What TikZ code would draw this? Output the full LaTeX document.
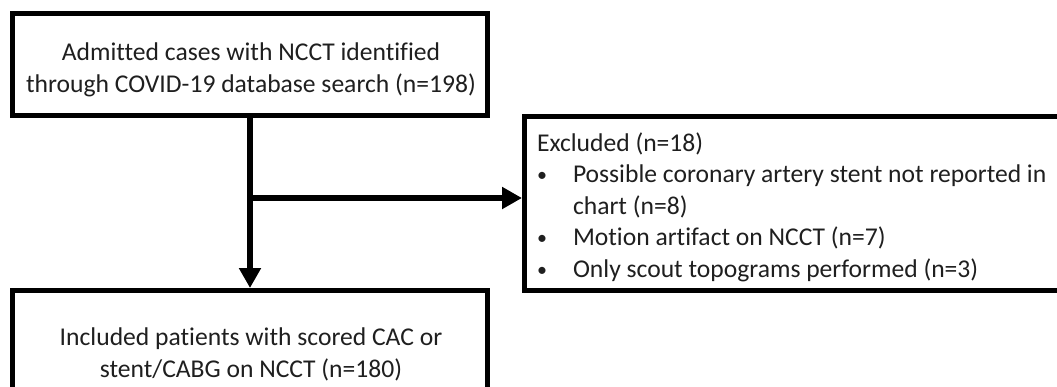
\documentclass[tikz,border=0pt]{standalone}
\usepackage{fontspec}
\setmainfont{Carlito}[Ligatures={NoCommon}]
\usetikzlibrary{arrows.meta}
\begin{document}
\begin{tikzpicture}[x=1pt,y=-1pt,
  flowbox/.style={draw=black, line width=5pt, inner sep=0pt, fill=white},
  txt/.style={inner sep=0pt, outer sep=0pt, text=black!88, font=\fontsize{25.6}{32}\selectfont},
  listtxt/.style={inner sep=0pt, outer sep=0pt, text=black!88, font=\fontsize{25.6}{31.5}\selectfont},
  conn/.style={draw=black, line width=5.5pt},
  arr/.style={conn, -{Triangle[width=21pt,length=20pt]}}]
\useasboundingbox (0,0) rectangle (1057,386);
\fill[white] (0,0) rectangle (1057,386);
% boxes
\node[flowbox, minimum width=475pt, minimum height=102pt] (top) at (250,64.5) {};
\node[flowbox, minimum width=475pt, minimum height=140pt] (bot) at (250,360.5) {};
\node[flowbox, minimum width=550.5pt, minimum height=174pt] (excl) at (799.75,203.5) {};
% texts
\node[txt, anchor=base] (toptext) at (251,60.3)
  {\begin{tabular}[t]{@{}c@{}}Admitted cases with NCCT identified\\through COVID-19 database search (n=198)\end{tabular}};
\node[txt, anchor=base] (bottext) at (251,345)
  {\begin{tabular}[t]{@{}c@{}}Included patients with scored CAC or\\stent/CABG on NCCT (n=180)\end{tabular}};
\node[listtxt, anchor=base west] (excltext) at (537,151)
  {\begin{tabular}[t]{@{}p{36pt}@{}l@{}}
   \multicolumn{2}{@{}l@{}}{Excluded (n=18)}\\
   {\fontsize{20}{20}\selectfont\raisebox{1pt}{•}}&Possible coronary artery stent not reported in\\
   &chart (n=8)\\
   {\fontsize{20}{20}\selectfont\raisebox{1pt}{•}}&Motion artifact on NCCT (n=7)\\
   {\fontsize{20}{20}\selectfont\raisebox{1pt}{•}}&Only scout topograms performed (n=3)
   \end{tabular}};
% connectors
\coordinate (branch) at (250,198);
\draw[arr] (top.south) -- (bot.north);
\draw[arr] (branch) -- (branch -| excl.west);
\end{tikzpicture}
\end{document}
